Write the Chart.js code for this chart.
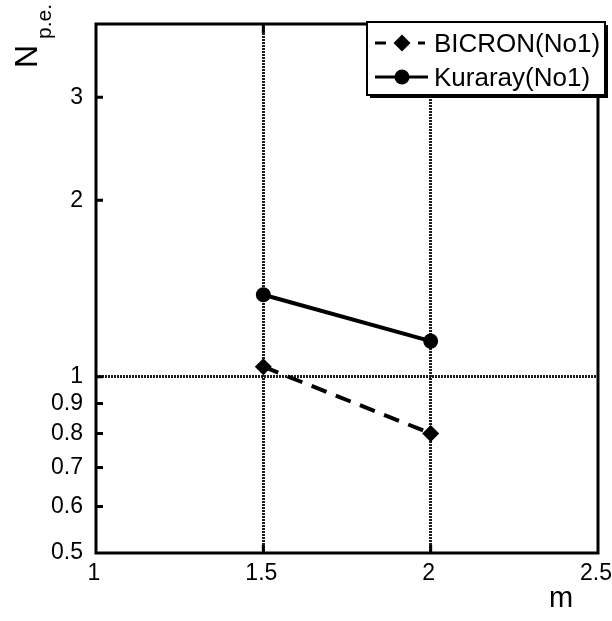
<!DOCTYPE html>
<html>
<head>
<meta charset="utf-8">
<script src="https://cdn.jsdelivr.net/npm/chart.js@4/dist/chart.umd.min.js"></script>
<style>
  html, body { margin: 0; padding: 0; background: #fff; }
  canvas { display: block; }
</style>
</head>
<body>
<canvas id="c" width="612" height="621"></canvas>
<script>
// Photoelectron yield versus m for two fibre types
const mValues = [1.5, 2];
const bicron = [1.04, 0.80];
const kuraray = [1.38, 1.15];
const seriesNames = ['BICRON(No1)', 'Kuraray(No1)'];

const xTicks = [1, 1.5, 2, 2.5];
const xTickLabels = ['1', '1.5', '2', '2.5'];
const yTicks = [0.5, 0.6, 0.7, 0.8, 0.9, 1, 2, 3, 4];
const yTickLabels = ['0.5', '0.6', '0.7', '0.8', '0.9', '1', '2', '3', ''];
const xGridAt = [1.5, 2];
const yGridAt = [1];

const tickFont = { family: "'Liberation Sans', Arial, sans-serif", size: 23 };
const textFamily = "'Liberation Sans', Arial, sans-serif";

function labelFor(list, labels, v) {
  for (let i = 0; i < list.length; i++) {
    if (Math.abs(list[i] - v) < 1e-9) return labels[i];
  }
  return '';
}
function isIn(list, v) {
  return list.some(g => Math.abs(g - v) < 1e-9);
}

// Frame, inward tick marks and axis titles
const framePlugin = {
  id: 'frame',
  afterDatasetsDraw(chart) {
    const { ctx, chartArea: a, scales } = chart;
    const xs = scales.x, ys = scales.y;
    ctx.save();
    ctx.strokeStyle = '#000';
    ctx.lineWidth = 3;
    ctx.setLineDash([]);
    ctx.beginPath();
    xTicks.slice(1, -1).forEach(v => {
      const px = xs.getPixelForValue(v);
      ctx.moveTo(px, a.bottom); ctx.lineTo(px, a.bottom - 8);
      ctx.moveTo(px, a.top); ctx.lineTo(px, a.top + 9);
    });
    yTicks.slice(1, -1).forEach(v => {
      const py = ys.getPixelForValue(v);
      ctx.moveTo(a.left, py); ctx.lineTo(a.left + 7, py);
    });
    ctx.stroke();
    ctx.strokeRect(a.left, a.top, a.right - a.left, a.bottom - a.top);

    // axis titles
    ctx.fillStyle = '#000';
    ctx.textAlign = 'center';
    ctx.textBaseline = 'alphabetic';
    ctx.font = '29px ' + textFamily;
    ctx.fillText('m', 561, 607);

    ctx.save();
    ctx.translate(37, 68);
    ctx.rotate(-Math.PI / 2);
    ctx.textAlign = 'left';
    ctx.font = '32px ' + textFamily;
    ctx.fillText('N', 0, 0);
    ctx.restore();
    ctx.save();
    ctx.translate(51, 39);
    ctx.rotate(-Math.PI / 2);
    ctx.textAlign = 'left';
    ctx.font = '21px ' + textFamily;
    ctx.fillText('p.e.', 0, 0);
    ctx.restore();
    ctx.restore();
  },
  afterDraw(chart) {
    // boxed legend with drop shadow
    const { ctx } = chart;
    const bx = 367, by = 22, bw = 238, bh = 73;
    ctx.save();
    ctx.fillStyle = '#000';
    ctx.fillRect(bx + 3, by + 3, bw, bh);
    ctx.fillStyle = '#fff';
    ctx.fillRect(bx, by, bw, bh);
    ctx.strokeStyle = '#000';
    ctx.lineWidth = 2;
    ctx.strokeRect(bx, by, bw, bh);

    const rows = [43, 77];
    const sx0 = 375, sx1 = 428, mx = 402;
    chart.data.datasets.forEach((ds, i) => {
      const y = rows[i];
      ctx.strokeStyle = ds.borderColor;
      ctx.lineWidth = 3;
      ctx.beginPath();
      if (ds.borderDash && ds.borderDash.length) {
        ctx.moveTo(sx0, y); ctx.lineTo(sx0 + 11, y);
        ctx.moveTo(mx + 16, y); ctx.lineTo(mx + 23, y);
      } else {
        ctx.moveTo(sx0, y); ctx.lineTo(sx1, y);
      }
      ctx.stroke();
      ctx.fillStyle = ds.pointBackgroundColor;
      ctx.beginPath();
      if (ds.pointStyle === 'rectRot') {
        const r = ds.pointRadius;
        ctx.moveTo(mx, y - r); ctx.lineTo(mx + r, y); ctx.lineTo(mx, y + r); ctx.lineTo(mx - r, y);
        ctx.closePath();
      } else {
        ctx.arc(mx, y, ds.pointRadius, 0, Math.PI * 2);
      }
      ctx.fill();
      ctx.fillStyle = '#000';
      ctx.font = '26px ' + textFamily;
      ctx.textAlign = 'left';
      ctx.textBaseline = 'alphabetic';
      ctx.fillText(ds.label, 434, y + 9);
    });
    ctx.restore();
  }
};

new Chart(document.getElementById('c'), {
  type: 'line',
  data: {
    datasets: [
      {
        label: seriesNames[0],
        data: mValues.map((m, i) => ({ x: m, y: bicron[i] })),
        borderColor: '#000',
        borderWidth: 4,
        borderDash: [16, 10],
        pointStyle: 'rectRot',
        pointRadius: 8.5,
        pointBackgroundColor: '#000',
        pointBorderColor: '#000',
        pointBorderWidth: 0,
        fill: false,
        tension: 0
      },
      {
        label: seriesNames[1],
        data: mValues.map((m, i) => ({ x: m, y: kuraray[i] })),
        borderColor: '#000',
        borderWidth: 4,
        borderDash: [],
        pointStyle: 'circle',
        pointRadius: 7.5,
        pointBackgroundColor: '#000',
        pointBorderColor: '#000',
        pointBorderWidth: 0,
        fill: false,
        tension: 0
      }
    ]
  },
  options: {
    responsive: false,
    animation: false,
    devicePixelRatio: 1,
    layout: { padding: { left: 0, right: 14, top: 24, bottom: 0 } },
    plugins: {
      legend: { display: false },
      tooltip: { enabled: false }
    },
    scales: {
      x: {
        type: 'linear',
        min: 1,
        max: 2.5,
        afterBuildTicks(scale) { scale.ticks = xTicks.map(v => ({ value: v })); },
        afterFit(scale) { scale.height = 68; scale.paddingLeft = 0; scale.paddingRight = 0; },
        ticks: {
          autoSkip: false,
          maxRotation: 0,
          padding: 7,
          labelOffset: -2,
          color: '#000',
          font: tickFont,
          callback: v => labelFor(xTicks, xTickLabels, v)
        },
        grid: {
          drawTicks: false,
          lineWidth: 3,
          color: c => (c.tick && isIn(xGridAt, c.tick.value)) ? '#1e1e1e' : 'rgba(0,0,0,0)'
        },
        border: { display: false, dash: [2, 1] }
      },
      y: {
        type: 'logarithmic',
        min: 0.5,
        max: 4,
        afterBuildTicks(scale) { scale.ticks = yTicks.map(v => ({ value: v })); },
        afterFit(scale) { scale.width = 96; scale.paddingTop = 0; scale.paddingBottom = 0; },
        ticks: {
          autoSkip: false,
          padding: 13,
          color: '#000',
          font: tickFont,
          callback: v => labelFor(yTicks, yTickLabels, v)
        },
        grid: {
          drawTicks: false,
          lineWidth: 3,
          color: c => (c.tick && isIn(yGridAt, c.tick.value)) ? '#1e1e1e' : 'rgba(0,0,0,0)'
        },
        border: { display: false, dash: [2, 1] }
      }
    }
  },
  plugins: [framePlugin]
});
</script>
</body>
</html>
